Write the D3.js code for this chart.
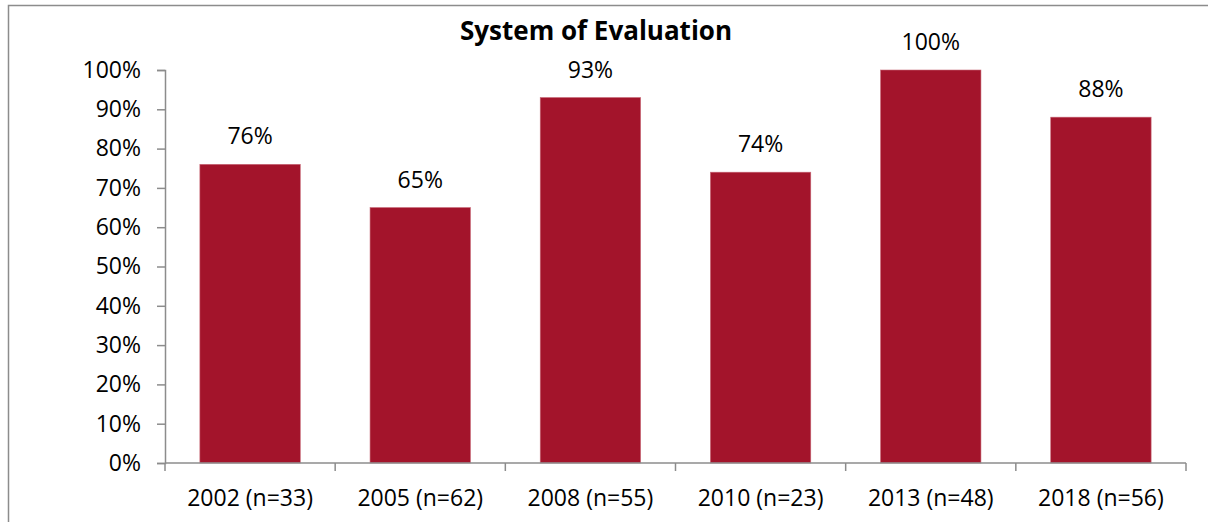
<!DOCTYPE html>
<html>
<head>
<meta charset="utf-8">
<script src="https://cdn.jsdelivr.net/npm/d3@7"></script>
<style>
  html, body { margin: 0; padding: 0; background: #fff; }
  svg { display: block; }
  text { font-family: "Open Sans", Lato, sans-serif; fill: #000; }
</style>
</head>
<body>
<svg id="chart" width="1208" height="522"></svg>
<script>
// Share of respondents reporting a system of evaluation, by survey year
const categories = ["2002 (n=33)", "2005 (n=62)", "2008 (n=55)", "2010 (n=23)", "2013 (n=48)", "2018 (n=56)"];
const values = [0.76, 0.65, 0.93, 0.74, 1.00, 0.88];
const yTicks = [0, 0.1, 0.2, 0.3, 0.4, 0.5, 0.6, 0.7, 0.8, 0.9, 1.0];
const title = "System of Evaluation";

const svg = d3.select("#chart");
const W = 1208, H = 522;
const margin = { left: 165, right: 22, top: 70, bottom: 59 };
const FONT = "\"Open Sans\", Lato, sans-serif";

// outer chart frame
svg.append("rect")
  .attr("x", 8.5).attr("y", 5.5)
  .attr("width", W + 10).attr("height", H + 10)
  .attr("fill", "none").attr("stroke", "#8c8c8c").attr("stroke-width", 1.5);

const x = d3.scaleBand()
  .domain(categories)
  .range([margin.left, W - margin.right])
  .paddingInner(0.41)
  .paddingOuter(0.205);

const y = d3.scaleLinear()
  .domain([0, 1])
  .range([H - margin.bottom, margin.top]);

// bars
svg.append("g").selectAll("rect")
  .data(values)
  .join("rect")
  .attr("x", (d, i) => x(categories[i]))
  .attr("y", d => y(d))
  .attr("width", x.bandwidth())
  .attr("height", d => y(0) - y(d))
  .attr("fill", "#a3142b")
  .attr("stroke", "#c86a78")
  .attr("stroke-width", 0.6);

// value labels
svg.append("g").selectAll("text")
  .data(values)
  .join("text")
  .attr("x", (d, i) => x(categories[i]) + x.bandwidth() / 2)
  .attr("y", d => y(d) - 20)
  .attr("text-anchor", "middle")
  .style("font-size", "23px")
  .text(d => d3.format(".0%")(d));

// y axis
const yAxis = d3.axisLeft(y)
  .tickValues(yTicks)
  .tickFormat(d3.format(".0%"))
  .tickSize(8)
  .tickPadding(16);
const gy = svg.append("g")
  .attr("transform", `translate(${margin.left},0)`)
  .call(yAxis);
gy.select(".domain").attr("stroke", "#8c8c8c").attr("stroke-width", 1.5);
gy.selectAll(".tick line").attr("stroke", "#8c8c8c").attr("stroke-width", 1.5);
gy.selectAll(".tick text").style("font-size", "23px").style("font-family", FONT).attr("fill", "#000");

// x axis: ticks sit on the band boundaries
const xEdges = categories.map(c => x(c) - x.step() * x.paddingInner() / 2).concat([W - margin.right]);
const gx = svg.append("g");
gx.append("line")
  .attr("x1", margin.left).attr("x2", W - margin.right)
  .attr("y1", y(0)).attr("y2", y(0))
  .attr("stroke", "#8c8c8c").attr("stroke-width", 1.5);
gx.selectAll("line.tk")
  .data(xEdges)
  .join("line")
  .attr("class", "tk")
  .attr("x1", d => d).attr("x2", d => d)
  .attr("y1", y(0)).attr("y2", y(0) + 8)
  .attr("stroke", "#8c8c8c").attr("stroke-width", 1.5);
gx.selectAll("text")
  .data(categories)
  .join("text")
  .attr("x", d => x(d) + x.bandwidth() / 2)
  .attr("y", y(0) + 43)
  .attr("text-anchor", "middle")
  .style("font-size", "23px")
  .text(d => d);

// title
svg.append("text")
  .attr("x", 596).attr("y", 40)
  .attr("text-anchor", "middle")
  .style("font-size", "26px")
  .style("font-weight", "bold")
  .text(title);
</script>
</body>
</html>
